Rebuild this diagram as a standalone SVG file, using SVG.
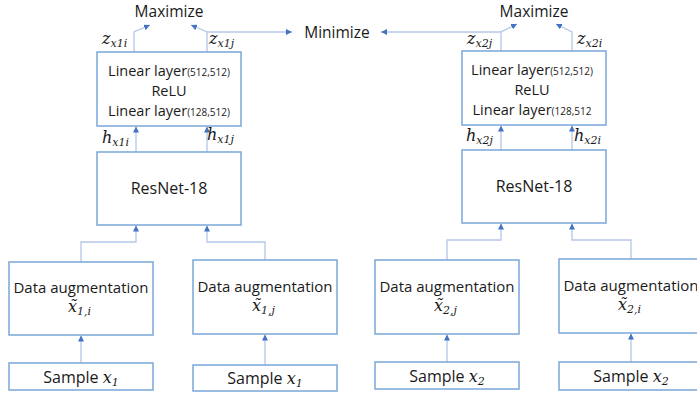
<svg xmlns="http://www.w3.org/2000/svg" width="697" height="393" viewBox="0 0 697 393">
<defs>
<marker id="ah" viewBox="0 0 10 10" refX="10" refY="5" markerWidth="6" markerHeight="6" markerUnits="userSpaceOnUse" orient="auto">
<path d="M0 0 L10 5 L0 10 Z" fill="#4472c4"/>
</marker>
<style>
.box{fill:#fff;stroke:#7aa6da;stroke-width:1.5}
.t{font-family:"Open Sans","Noto Sans",sans-serif;font-size:15.5px;fill:#1a1a1a;text-anchor:middle}
.lin{font-size:14.5px}
.da{font-size:15px}
.big{font-size:16px}
.s{font-size:10px}
.m{font-family:"DejaVu Serif","Liberation Serif",serif;font-style:italic;font-size:16px;fill:#1a1a1a}
.ms{font-size:11px}
.c{fill:none;stroke:#b4c7e7;stroke-width:1.3;marker-end:url(#ah)}
</style>
</defs>
<rect width="697" height="393" fill="#fff"/>

<g id="connectors">
<path class="c" d="M81 363 V335.5"/>
<path class="c" d="M265 365 V334.5"/>
<path class="c" d="M447 362 V334.5"/>
<path class="c" d="M631 362 V333.5"/>
<path class="c" d="M81 262 V242 H136 V225.5"/>
<path class="c" d="M265 260 V242 H207 V225.5"/>
<path class="c" d="M447 260 V240 H501 V223.5"/>
<path class="c" d="M631 259 V240 H572 V223.5"/>
<path class="c" d="M136 152 V126.5"/>
<path class="c" d="M207 152 V126.5"/>
<path class="c" d="M501 150 V125.5"/>
<path class="c" d="M572 150 V125.5"/>
<path class="c" d="M134 52 V32 L150 25"/>
<path class="c" d="M207 52 V32 L191 25"/>
<path class="c" d="M207 32 H292"/>
<path class="c" d="M501 51 V32 L517 24"/>
<path class="c" d="M572 51 V32 L556 24"/>
<path class="c" d="M501 32 H381"/>
</g>

<g id="maximize1"><text class="t" x="169" y="17">Maximize</text></g>
<g id="maximize2"><text class="t" x="534" y="17">Maximize</text></g>
<g id="minimize"><text class="t" x="337" y="38">Minimize</text></g>

<g id="labels">
<text class="m" x="102" y="44">z<tspan class="ms" dy="3">x1i</tspan></text>
<text class="m" x="209" y="44">z<tspan class="ms" dy="3">x1j</tspan></text>
<text class="m" x="102" y="143">h<tspan class="ms" dy="3">x1i</tspan></text>
<text class="m" x="207" y="140">h<tspan class="ms" dy="3">x1j</tspan></text>
<text class="m" x="467" y="44">z<tspan class="ms" dy="3">x2j</tspan></text>
<text class="m" x="577" y="44">z<tspan class="ms" dy="3">x2i</tspan></text>
<text class="m" x="466" y="141">h<tspan class="ms" dy="3">x2j</tspan></text>
<text class="m" x="574" y="141">h<tspan class="ms" dy="3">x2i</tspan></text>
</g>

<g id="linear1">
<rect class="box" x="97" y="52" width="144" height="74"/>
<text class="t lin" x="169" y="76">Linear layer<tspan class="s">(512,512)</tspan></text>
<text class="t lin" x="169" y="96">ReLU</text>
<text class="t lin" x="169" y="116">Linear layer<tspan class="s">(128,512)</tspan></text>
</g>
<g id="linear2">
<rect class="box" x="462" y="51" width="144" height="74"/>
<text class="t lin" x="532" y="75">Linear layer<tspan class="s">(512,512)</tspan></text>
<text class="t lin" x="532" y="95">ReLU</text>
<text class="t lin" x="532" y="115">Linear layer<tspan class="s">(128,512</tspan></text>
</g>

<g id="resnet1">
<rect class="box" x="97" y="152" width="144" height="73"/>
<text class="t big" x="169" y="194">ResNet-18</text>
</g>
<g id="resnet2">
<rect class="box" x="462" y="150" width="144" height="73"/>
<text class="t big" x="534" y="192">ResNet-18</text>
</g>

<g id="aug1">
<rect class="box" x="9" y="262" width="144" height="73"/>
<text class="t da" x="81" y="293">Data augmentation</text>
<text class="m" x="68" y="312">x̃<tspan class="ms" dy="3">1,i</tspan></text>
</g>
<g id="aug2">
<rect class="box" x="193" y="260" width="144" height="74"/>
<text class="t da" x="265" y="292">Data augmentation</text>
<text class="m" x="252" y="311">x̃<tspan class="ms" dy="3">1,j</tspan></text>
</g>
<g id="aug3">
<rect class="box" x="375" y="260" width="144" height="74"/>
<text class="t da" x="447" y="292">Data augmentation</text>
<text class="m" x="434" y="311">x̃<tspan class="ms" dy="3">2,j</tspan></text>
</g>
<g id="aug4">
<rect class="box" x="559" y="259" width="144" height="74"/>
<text class="t da" x="631" y="291">Data augmentation</text>
<text class="m" x="618" y="310">x̃<tspan class="ms" dy="3">2,i</tspan></text>
</g>

<g id="sample1">
<rect class="box" x="9" y="363" width="144" height="27"/>
<text class="t big" x="81" y="383">Sample <tspan class="m">x<tspan class="ms" dy="3">1</tspan></tspan></text>
</g>
<g id="sample2">
<rect class="box" x="193" y="365" width="144" height="26"/>
<text class="t big" x="265" y="384">Sample <tspan class="m">x<tspan class="ms" dy="3">1</tspan></tspan></text>
</g>
<g id="sample3">
<rect class="box" x="375" y="362" width="144" height="27"/>
<text class="t big" x="447" y="382">Sample <tspan class="m">x<tspan class="ms" dy="3">2</tspan></tspan></text>
</g>
<g id="sample4">
<rect class="box" x="559" y="362" width="144" height="28"/>
<text class="t big" x="631" y="382">Sample <tspan class="m">x<tspan class="ms" dy="3">2</tspan></tspan></text>
</g>
</svg>
